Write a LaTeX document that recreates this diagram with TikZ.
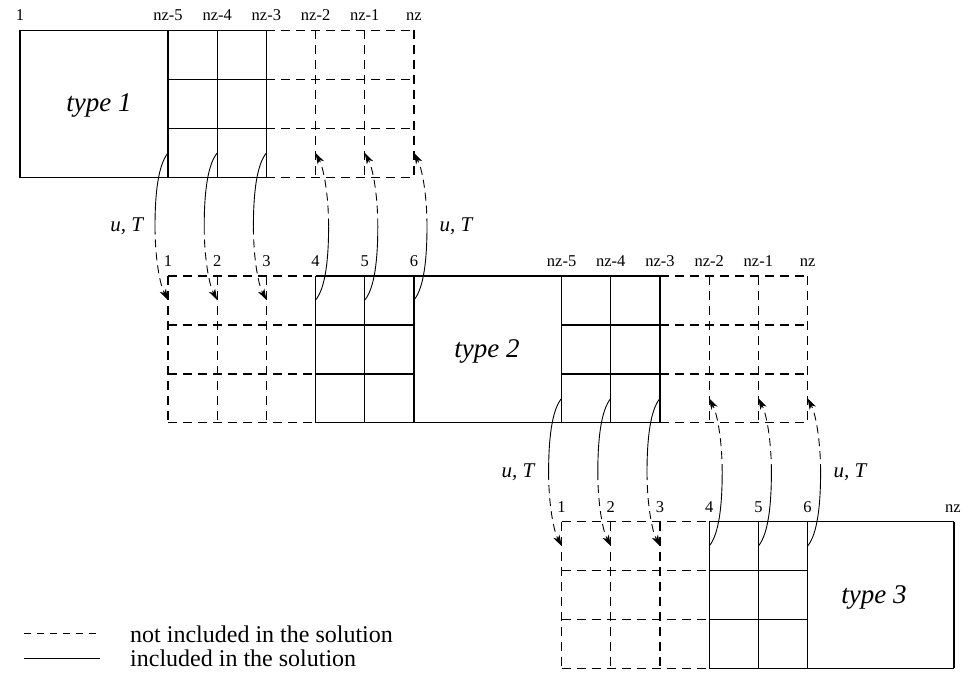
\documentclass[tikz,border=0pt]{standalone}
\usepackage{fontspec}
\setmainfont{Liberation Serif}
\usetikzlibrary{calc,arrows.meta}
\begin{document}
\begin{tikzpicture}[x=1pt,y=-1pt,
  solidln/.style={line width=1.1pt},
  dashln/.style={line width=1.1pt, dash pattern=on 9pt off 6pt},
  curve/.style={line width=0.9pt},
  dcurve/.style={line width=0.9pt, dash pattern=on 8pt off 5pt, -{Stealth[length=11pt,width=7pt,inset=3pt]}},
  lab/.style={font=\fontsize{16.5}{18}\selectfont, inner sep=0pt, anchor=base},
  ut/.style={font=\fontsize{21}{24}\selectfont\itshape, inner sep=0pt, anchor=base},
  typ/.style={font=\fontsize{27}{30}\selectfont\itshape, inner sep=0pt, anchor=base},
  leg/.style={font=\fontsize{24}{26}\selectfont, inner sep=0pt, anchor=base west}]
\useasboundingbox (0,0) rectangle (962,677);

% ---------- Block 1 ----------
\draw[solidln] (20,30.5) rectangle (168,177.5);
\foreach \x in {168,217.2,266.4} \draw[solidln] (\x,30.5) -- (\x,177.5);
\foreach \y in {30.5,79.5,128.5,177.5} \draw[solidln] (168,\y) -- (266.4,\y);
\foreach \y in {30.5,79.5,128.5,177.5} \draw[dashln] (266.4,\y) -- (414,\y);
\foreach \x in {315.6,364.8,414} \draw[dashln] (\x,30.5) -- (\x,177.5);

% ---------- Block 2 ----------
\foreach \y in {276,325,374,422.7} \draw[dashln] (168,\y) -- (315.6,\y);
\foreach \x in {168,217.2,266.4} \draw[dashln] (\x,276) -- (\x,422.7);
\foreach \x in {315.6,364.8,414,561.6,610.8,660} \draw[solidln] (\x,276) -- (\x,422.7);
\foreach \y in {325,374} {\draw[solidln] (315.6,\y) -- (414,\y); \draw[solidln] (561.6,\y) -- (660,\y);}
\foreach \y in {276,422.7} \draw[solidln] (315.6,\y) -- (660,\y);
\foreach \y in {276,325,374,422.7} \draw[dashln] (660,\y) -- (807.6,\y);
\foreach \x in {709.2,758.4,807.6} \draw[dashln] (\x,276) -- (\x,422.7);

% ---------- Block 3 ----------
\foreach \y in {521.7,570.7,619.7,668.3} \draw[dashln] (561.6,\y) -- (709.2,\y);
\foreach \x in {561.6,610.8,660} \draw[dashln] (\x,521.7) -- (\x,668.3);
\foreach \x in {709.2,758.4,807.6,954} \draw[solidln] (\x,521.7) -- (\x,668.3);
\foreach \y in {570.7,619.7} \draw[solidln] (709.2,\y) -- (807.6,\y);
\foreach \y in {521.7,668.3} \draw[solidln] (709.2,\y) -- (954,\y);

% ---------- Column labels ----------
\foreach \x/\t [count=\i] in {20/1,168/nz-5,217.2/nz-4,266.4/nz-3,315.6/nz-2,364.8/nz-1,414/nz}
  \node[lab] (ta\i) at (\x,20.7) {\t};
\foreach \x/\t [count=\i] in {168/1,217.2/2,266.4/3,315.6/4,364.8/5,414/6,561.6/nz-5,610.8/nz-4,660/nz-3,709.2/nz-2,758.4/nz-1,807.6/nz}
  \node[lab] (tb\i) at (\x,266.4) {\t};
\foreach \x/\t [count=\i] in {561.6/1,610.8/2,660/3,709.2/4,758.4/5,807.6/6,953/nz}
  \node[lab] (tc\i) at (\x,512.1) {\t};

% ---------- Type labels ----------
\node[typ] (type1) at (99,111.7) {type 1};
\node[typ] (type2) at (487,357.3) {type 2};
\node[typ] (type3) at (874,603.3) {type 3};

% ---------- u, T labels ----------
\node[ut] (ut1) at (126.7,231.7) {u, T};
\node[ut] (ut2) at (456,231.7) {u, T};
\node[ut] (ut3) at (518,477.5) {u, T};
\node[ut] (ut4) at (850,477.5) {u, T};

% ---------- Downward transfers ----------
\foreach \x/\ys/\ye/\n in {168/153/300/a, 217.2/153/300/b, 266.4/153/300/c, 561.6/398.4/546/d, 610.8/398.4/546/e, 660/398.4/546/f} {
  \coordinate (ds\n) at (\x,\ys);
  \coordinate (de\n) at (\x,\ye);
  \coordinate (dm\n) at (\x-13,{(\ys+\ye)/2});
  \draw[curve] (ds\n) .. controls ($(ds\n)+(-10,12)$) and ($(dm\n)+(0,-32)$) .. (dm\n);
  \draw[dcurve] (dm\n) .. controls ($(dm\n)+(0,32)$) and ($(de\n)+(-8,-15)$) .. (de\n);
}

% ---------- Upward transfers ----------
\foreach \x/\ys/\ye/\n in {315.6/300/153/a, 364.8/300/153/b, 414/300/153/c, 709.2/546/398.4/d, 758.4/546/398.4/e, 807.6/546/398.4/f} {
  \coordinate (us\n) at (\x,\ys);
  \coordinate (ue\n) at (\x,\ye);
  \coordinate (um\n) at (\x+13,{(\ys+\ye)/2});
  \draw[curve] (us\n) .. controls ($(us\n)+(10,-12)$) and ($(um\n)+(0,32)$) .. (um\n);
  \draw[dcurve] (um\n) .. controls ($(um\n)+(0,-32)$) and ($(ue\n)+(8,15)$) .. (ue\n);
}

% ---------- Legend ----------
\coordinate (lg1a) at (24,633);
\coordinate (lg1b) at (100,633);
\coordinate (lg2a) at (24,658);
\coordinate (lg2b) at (100,658);
\draw[line width=1pt, dash pattern=on 7pt off 6pt] (lg1a) -- (lg1b);
\draw[line width=1pt] (lg2a) -- (lg2b);
\node[leg] (legd) at (130,642) {not included in the solution};
\node[leg] (legs) at (130,666.7) {included in the solution};
\end{tikzpicture}
\end{document}
